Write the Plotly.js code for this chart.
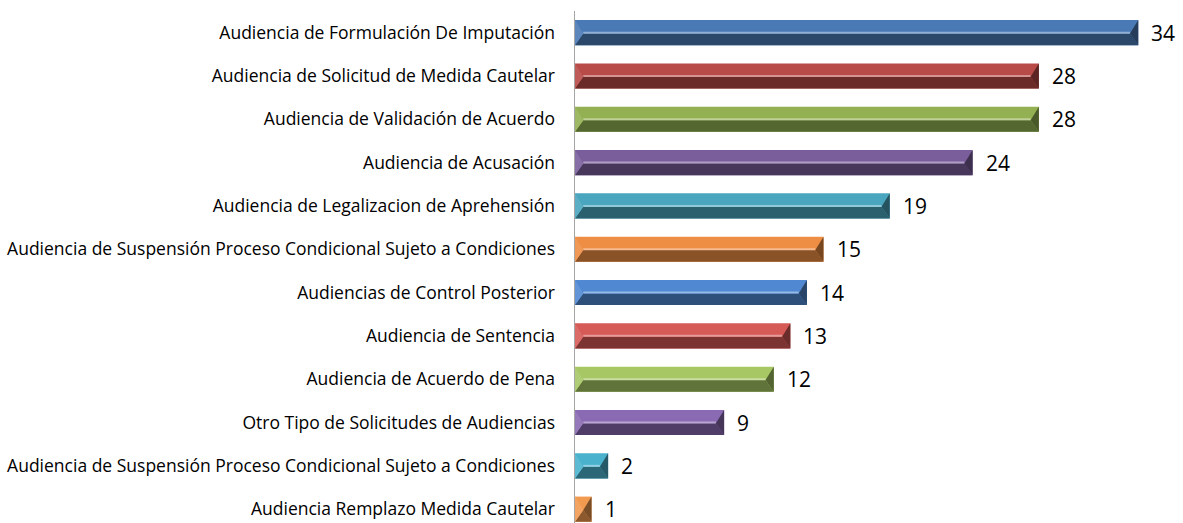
<!DOCTYPE html>
<html>
<head>
<meta charset="utf-8">
<script src="https://cdn.plot.ly/plotly-3.0.1.min.js"></script>
<style>
  html, body { margin: 0; padding: 0; background: #fff; }
  #chart { width: 1183px; height: 523px; }
</style>
</head>
<body>
<div id="chart"></div>
<script>
// data, top row first
const audiencias = [
    'Audiencia de Formulación De Imputación',
    'Audiencia de Solicitud de Medida Cautelar',
    'Audiencia de Validación de Acuerdo',
    'Audiencia de Acusación',
    'Audiencia de Legalizacion de Aprehensión',
    'Audiencia de Suspensión Proceso Condicional Sujeto a Condiciones',
    'Audiencias de Control Posterior',
    'Audiencia de Sentencia',
    'Audiencia de Acuerdo de Pena',
    'Otro Tipo de Solicitudes de Audiencias',
    'Audiencia de Suspensión Proceso Condicional Sujeto a Condiciones',
    'Audiencia Remplazo Medida Cautelar'
];
const cantidades = [34, 28, 28, 24, 19, 15, 14, 13, 12, 9, 2, 1];
const colores = [
    '#4A7AB6', '#B84A47', '#93B152', '#7A5E9C', '#4AA5BF', '#EE8E44',
    '#5089D2', '#D65A56', '#A6C764', '#8A6AB2', '#4BB2CE', '#F29A50'
];

const posiciones = audiencias.map((_, i) => i);

// mix a hex colour with black (f<1) or white (f>1 -> amount of white)
function shade(hex, f) {
    const n = parseInt(hex.slice(1), 16);
    let r = (n >> 16) & 255, g = (n >> 8) & 255, b = n & 255;
    if (f <= 1) { r *= f; g *= f; b *= f; }
    else { const w = f - 1; r += (255 - r) * w; g += (255 - g) * w; b += (255 - b) * w; }
    return 'rgb(' + [r, g, b].map(Math.round).join(',') + ')';
}

const alto = 0.58;   // bar thickness in row units
const bisel = 0.5;   // bevel inset in value units

const shapes = [];
cantidades.forEach((v, i) => {
    const top = i - alto / 2, bot = i + alto / 2, mid = i + 0.02;
    const d = Math.min(bisel, v / 2);
    const c = colores[i];
    // bottom face, dark
    shapes.push({ type: 'path', xref: 'x', yref: 'y', layer: 'above',
        path: `M 0,${bot} L ${d},${mid} L ${v - d},${mid} L ${v},${bot} Z`,
        fillcolor: shade(c, 0.58), line: { width: 0 } });
    // right facet
    shapes.push({ type: 'path', xref: 'x', yref: 'y', layer: 'above',
        path: `M ${v},${top} L ${v - d},${mid} L ${v},${bot} Z`,
        fillcolor: shade(c, 0.5), line: { width: 0 } });
    // left facet
    shapes.push({ type: 'path', xref: 'x', yref: 'y', layer: 'above',
        path: `M 0,${top} L ${d},${mid} L 0,${bot} Z`,
        fillcolor: shade(c, 1.1), line: { width: 0 } });
    // highlight along the ridge
    if (v - 2 * d > 0) {
        shapes.push({ type: 'line', xref: 'x', yref: 'y', layer: 'above',
            x0: d, x1: v - d, y0: mid - 0.02, y1: mid - 0.02,
            line: { color: shade(c, 1.4), width: 2 } });
    }
});

const annotations = cantidades.map((v, i) => ({
    x: v, y: i, xref: 'x', yref: 'y',
    text: String(v), showarrow: false,
    xanchor: 'left', yanchor: 'middle', xshift: 11,
    font: { family: 'Open Sans, sans-serif', size: 21, color: '#000' }
}));

const trace = {
    type: 'bar',
    orientation: 'h',
    x: cantidades,
    y: posiciones,
    width: alto,
    marker: { color: colores, line: { width: 0 } },
    hoverinfo: 'skip'
};

const layout = {
    width: 1183,
    height: 523,
    margin: { l: 575, r: 0, t: 11, b: 0 },
    paper_bgcolor: '#fff',
    plot_bgcolor: '#fff',
    showlegend: false,
    xaxis: {
        range: [0, 36.7],
        showgrid: false, zeroline: false, showticklabels: false, showline: false
    },
    yaxis: {
        range: [11.32, -0.5],
        tickvals: posiciones,
        ticktext: audiencias,
        tickfont: { family: 'Open Sans, sans-serif', size: 17.5, color: '#000' },
        ticks: '',
        ticklabelstandoff: 15,
        showgrid: false, zeroline: false,
        showline: true, linecolor: '#A6A6A6', linewidth: 1.5
    },
    shapes: shapes,
    annotations: annotations
};

Plotly.newPlot('chart', [trace], layout, { displayModeBar: false, staticPlot: true });
</script>
</body>
</html>
